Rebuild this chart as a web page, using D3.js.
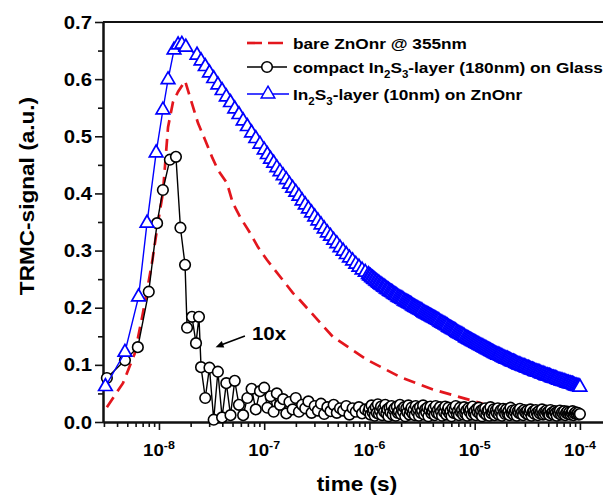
<!DOCTYPE html>
<html>
<head>
<meta charset="utf-8">
<script src="https://cdn.jsdelivr.net/npm/d3@7"></script>
<style>
  body { margin: 0; background: #fff; }
  svg { display: block; }
  text { font-family: "Liberation Sans", Arial, sans-serif; font-weight: bold; fill: #000; }
</style>
</head>
<body>
<div id="chart"></div>
<script>
// ---- data ----
// bare ZnOnr @ 355nm (red dashed)
const redTime = [3.2e-9, 4.55e-9, 5.92e-9, 7.05e-9, 8.58e-9, 9.78e-9, 1.09e-8, 1.22e-8, 1.36e-8, 1.52e-8,
  1.77e-8, 1.97e-8, 2.35e-8, 2.74e-8, 3.19e-8, 3.64e-8, 4.43e-8, 5.04e-8, 5.89e-8, 7.33e-8,
  8.73e-8, 1.06e-7, 1.87e-7, 2.19e-7, 4.5e-7, 9.46e-7, 1.95e-6, 4.01e-6, 8.43e-6, 1.2e-5];
const redSignal = [0.026, 0.068, 0.121, 0.191, 0.278, 0.348, 0.401, 0.516, 0.560, 0.578,
  0.597, 0.569, 0.523, 0.494, 0.464, 0.441, 0.418, 0.383, 0.359, 0.331,
  0.306, 0.284, 0.226, 0.213, 0.149, 0.109, 0.079, 0.057, 0.040, 0.032];

// compact In2S3-layer (180nm) on Glass (black circles), early part
const blackRiseTime = [3.2e-9, 4.75e-9, 6.3e-9, 8.0e-9, 9.6e-9, 1.09e-8, 1.27e-8, 1.45e-8, 1.6e-8, 1.77e-8,
  1.85e-8, 2.06e-8, 2.25e-8, 2.4e-8];
const blackRise = [0.077, 0.108, 0.131, 0.228, 0.348, 0.406, 0.459, 0.464, 0.340, 0.275,
  0.165, 0.184, 0.138, 0.184];

// In2S3-layer (10nm) on ZnOnr (blue triangles), early part
const blueRiseTime = [3.1e-9, 4.75e-9, 6.4e-9, 7.7e-9, 9.4e-9, 1.09e-8, 1.22e-8, 1.39e-8, 1.52e-8, 1.65e-8,
  1.8e-8, 2.3e-8];
const blueRise = [0.062, 0.122, 0.219, 0.348, 0.471, 0.546, 0.599, 0.651, 0.660, 0.661,
  0.656, 0.642];

// sampling of the long tail, log10 of time in s (shared by black and blue)
const tailLogTime = [
  -7.60, -7.56, -7.52, -7.48, -7.44, -7.40, -7.36, -7.32, -7.28, -7.24, -7.20, -7.16, -7.12, -7.08, -7.04,
  -7.00, -6.97, -6.94, -6.91, -6.88, -6.85, -6.82, -6.79, -6.76, -6.73, -6.70, -6.67, -6.64, -6.61, -6.58,
  -6.55, -6.52, -6.49, -6.46, -6.43, -6.40, -6.37, -6.34, -6.31, -6.28, -6.25, -6.22, -6.19, -6.16, -6.13,
  -6.10, -6.07, -6.04, -6.01,
  -6.00, -5.99, -5.98, -5.97, -5.96, -5.95, -5.94, -5.93, -5.92, -5.91,
  -5.90, -5.89, -5.88, -5.87, -5.86, -5.85, -5.84, -5.83, -5.82, -5.81,
  -5.80, -5.79, -5.78, -5.77, -5.76, -5.75, -5.74, -5.73, -5.72, -5.71,
  -5.70, -5.69, -5.68, -5.67, -5.66, -5.65, -5.64, -5.63, -5.62, -5.61,
  -5.60, -5.59, -5.58, -5.57, -5.56, -5.55, -5.54, -5.53, -5.52, -5.51,
  -5.50, -5.49, -5.48, -5.47, -5.46, -5.45, -5.44, -5.43, -5.42, -5.41,
  -5.40, -5.39, -5.38, -5.37, -5.36, -5.35, -5.34, -5.33, -5.32, -5.31,
  -5.30, -5.29, -5.28, -5.27, -5.26, -5.25, -5.24, -5.23, -5.22, -5.21,
  -5.20, -5.19, -5.18, -5.17, -5.16, -5.15, -5.14, -5.13, -5.12, -5.11,
  -5.10, -5.09, -5.08, -5.07, -5.06, -5.05, -5.04, -5.03, -5.02, -5.01,
  -5.00, -4.99, -4.98, -4.97, -4.96, -4.95, -4.94, -4.93, -4.92, -4.91,
  -4.90, -4.89, -4.88, -4.87, -4.86, -4.85, -4.84, -4.83, -4.82, -4.81,
  -4.80, -4.79, -4.78, -4.77, -4.76, -4.75, -4.74, -4.73, -4.72, -4.71,
  -4.70, -4.69, -4.68, -4.67, -4.66, -4.65, -4.64, -4.63, -4.62, -4.61,
  -4.60, -4.59, -4.58, -4.57, -4.56, -4.55, -4.54, -4.53, -4.52, -4.51,
  -4.50, -4.49, -4.48, -4.47, -4.46, -4.45, -4.44, -4.43, -4.42, -4.41,
  -4.40, -4.39, -4.38, -4.37, -4.36, -4.35, -4.34, -4.33, -4.32, -4.31,
  -4.30, -4.29, -4.28, -4.27, -4.26, -4.25, -4.24, -4.23, -4.22, -4.21,
  -4.20, -4.19, -4.18, -4.17, -4.16, -4.15, -4.14, -4.13, -4.12, -4.11,
  -4.10, -4.09, -4.08, -4.07, -4.06, -4.05, -4.04, -4.03, -4.02, -4.01,
  -4.00];

const blackTail = [
  0.096, 0.042, 0.095, 0.004, 0.088, 0.008, 0.068, 0.012, 0.072, 0.030, 0.012, 0.042, 0.058, 0.022, 0.054,
  0.060, 0.025, 0.045, 0.018, 0.050, 0.030, 0.040, 0.015, 0.035, 0.022, 0.042, 0.018, 0.030, 0.024, 0.036,
  0.016, 0.028, 0.020, 0.032, 0.014, 0.026, 0.019, 0.030, 0.016, 0.024, 0.020, 0.028, 0.013, 0.024, 0.018,
  0.026, 0.015, 0.022, 0.018,
  0.024, 0.013, 0.029, 0.017, 0.021, 0.011, 0.026, 0.016, 0.031, 0.014,
  0.020, 0.027, 0.012, 0.023, 0.018, 0.030, 0.015, 0.022, 0.010, 0.025,
  0.017, 0.028, 0.013, 0.021, 0.024, 0.011, 0.027, 0.016, 0.019, 0.030,
  0.014, 0.022, 0.018, 0.026, 0.010, 0.024, 0.017, 0.029, 0.013, 0.020,
  0.025, 0.015, 0.021, 0.012, 0.028, 0.018, 0.023, 0.011, 0.026, 0.016,
  0.020, 0.029, 0.013, 0.022, 0.017, 0.025, 0.010, 0.021, 0.027, 0.015,
  0.019, 0.024, 0.012, 0.028, 0.016, 0.021, 0.014, 0.026, 0.018, 0.011,
  0.023, 0.017, 0.027, 0.013, 0.020, 0.025, 0.015, 0.019, 0.010, 0.024,
  0.016, 0.022, 0.028, 0.014, 0.019, 0.012, 0.025, 0.017, 0.021, 0.013,
  0.026, 0.015, 0.020, 0.011, 0.024, 0.018, 0.022, 0.013, 0.027, 0.016,
  0.019, 0.012, 0.023, 0.017, 0.025, 0.014, 0.020, 0.010, 0.022, 0.016,
  0.024, 0.013, 0.019, 0.021, 0.011, 0.026, 0.015, 0.018, 0.022, 0.012,
  0.020, 0.016, 0.024, 0.013, 0.018, 0.021, 0.011, 0.023, 0.017, 0.014,
  0.022, 0.015, 0.019, 0.012, 0.025, 0.016, 0.020, 0.013, 0.018, 0.021,
  0.011, 0.019, 0.016, 0.023, 0.014, 0.018, 0.012, 0.021, 0.017, 0.015,
  0.020, 0.013, 0.018, 0.022, 0.011, 0.017, 0.019, 0.014, 0.021, 0.016,
  0.012, 0.019, 0.015, 0.018, 0.022, 0.013, 0.017, 0.014, 0.020, 0.016,
  0.018, 0.012, 0.021, 0.015, 0.017, 0.013, 0.019, 0.016, 0.011, 0.018,
  0.015, 0.020, 0.013, 0.017, 0.014, 0.019, 0.012, 0.016, 0.018, 0.014,
  0.017, 0.013, 0.016, 0.019, 0.012, 0.015, 0.017, 0.014, 0.016, 0.013,
  0.014];

const blueTail = [
  0.632, 0.622, 0.611, 0.601, 0.590, 0.580, 0.569, 0.559, 0.548, 0.538, 0.527, 0.517, 0.506, 0.496, 0.486,
  0.476, 0.468, 0.460, 0.453, 0.445, 0.438, 0.431, 0.424, 0.416, 0.409, 0.402, 0.395, 0.387, 0.380, 0.373,
  0.366, 0.359, 0.352, 0.345, 0.338, 0.331, 0.325, 0.318, 0.312, 0.305, 0.299, 0.293, 0.287, 0.282, 0.276,
  0.271, 0.266, 0.262, 0.258,
  0.256, 0.255, 0.253, 0.252, 0.250, 0.249, 0.247, 0.246, 0.244, 0.243,
  0.241, 0.240, 0.239, 0.237, 0.236, 0.235, 0.233, 0.232, 0.231, 0.229,
  0.228, 0.227, 0.226, 0.224, 0.223, 0.222, 0.221, 0.219, 0.218, 0.217,
  0.216, 0.215, 0.214, 0.212, 0.211, 0.210, 0.209, 0.208, 0.207, 0.206,
  0.205, 0.203, 0.202, 0.201, 0.200, 0.199, 0.198, 0.197, 0.196, 0.195,
  0.194, 0.192, 0.191, 0.190, 0.189, 0.188, 0.187, 0.186, 0.185, 0.184,
  0.183, 0.182, 0.181, 0.180, 0.179, 0.178, 0.177, 0.175, 0.174, 0.173,
  0.172, 0.171, 0.170, 0.169, 0.168, 0.166, 0.165, 0.164, 0.163, 0.162,
  0.161, 0.160, 0.159, 0.157, 0.156, 0.155, 0.154, 0.153, 0.152, 0.151,
  0.150, 0.148, 0.147, 0.146, 0.145, 0.144, 0.143, 0.142, 0.141, 0.140,
  0.139, 0.138, 0.137, 0.136, 0.135, 0.134, 0.133, 0.132, 0.131, 0.130,
  0.129, 0.128, 0.127, 0.126, 0.125, 0.124, 0.123, 0.122, 0.121, 0.120,
  0.119, 0.118, 0.117, 0.117, 0.116, 0.115, 0.114, 0.113, 0.112, 0.111,
  0.110, 0.110, 0.109, 0.108, 0.107, 0.106, 0.105, 0.105, 0.104, 0.103,
  0.102, 0.101, 0.100, 0.100, 0.099, 0.098, 0.097, 0.097, 0.096, 0.095,
  0.094, 0.094, 0.093, 0.092, 0.091, 0.091, 0.090, 0.089, 0.088, 0.088,
  0.087, 0.087, 0.086, 0.085, 0.084, 0.084, 0.083, 0.082, 0.081, 0.081,
  0.080, 0.080, 0.079, 0.078, 0.077, 0.077, 0.076, 0.076, 0.075, 0.074,
  0.073, 0.073, 0.072, 0.072, 0.071, 0.071, 0.070, 0.069, 0.068, 0.068,
  0.067, 0.067, 0.066, 0.066, 0.065, 0.064, 0.063, 0.063, 0.062, 0.062,
  0.061];

const yTicks = [0, 0.1, 0.2, 0.3, 0.4, 0.5, 0.6, 0.7];
const yMinor = [0.05, 0.15, 0.25, 0.35, 0.45, 0.55, 0.65];
const xDecades = [-8, -7, -6, -5, -4];

const legendLabels = [
  [{t: "bare ZnOnr @ 355nm"}],
  [{t: "compact In"}, {t: "2", sub: true}, {t: "S"}, {t: "3", sub: true}, {t: "-layer (180nm) on Glass"}],
  [{t: "In"}, {t: "2", sub: true}, {t: "S"}, {t: "3", sub: true}, {t: "-layer (10nm) on ZnOnr"}]
];

// ---- build series ----
function zip(ts, vs) {
  const n = Math.min(ts.length, vs.length);
  return d3.range(n).map(i => ({t: ts[i], v: vs[i]}));
}
const tailTime = tailLogTime.map(e => Math.pow(10, e));
const redData = zip(redTime, redSignal);
const blackData = zip(blackRiseTime, blackRise).concat(zip(tailTime, blackTail));
const blueData = zip(blueRiseTime, blueRise).concat(zip(tailTime, blueTail));

// ---- chart ----
const width = 603, height = 497;
const SX = 1.13; // glyphs in the picture are a bit wide

const svg = d3.select("#chart").append("svg")
  .attr("width", width)
  .attr("height", height);

const x = d3.scaleLog()
  .domain([2.94e-9, 2e-4])
  .range([103, 611.6]);

const y = d3.scaleLinear()
  .domain([0, 0.7])
  .range([422, 22]);

// axes (ticks only, labels drawn below)
const minorX = [];
for (let e = -9; e <= -4; e++) {
  for (let k = 2; k <= 9; k++) {
    const v = k * Math.pow(10, e);
    if (v > x.domain()[0] && v < x.domain()[1]) minorX.push(v);
  }
}

function styleAxis(g) {
  g.select(".domain").attr("stroke", "#111").attr("stroke-width", 2);
  g.selectAll(".tick line").attr("stroke", "#111").attr("stroke-width", 1.6);
}

svg.append("g")
  .attr("transform", "translate(0,422)")
  .call(d3.axisBottom(x).tickValues(minorX).tickSize(5).tickSizeOuter(0).tickFormat(""))
  .call(styleAxis);
svg.append("g")
  .attr("transform", "translate(0,422)")
  .call(d3.axisBottom(x).tickValues(xDecades.map(e => Math.pow(10, e))).tickSize(8).tickSizeOuter(0).tickFormat(""))
  .call(styleAxis);

svg.append("g")
  .attr("transform", "translate(103,0)")
  .call(d3.axisLeft(y).tickValues(yMinor).tickSize(5).tickSizeOuter(0).tickFormat(""))
  .call(styleAxis);
svg.append("g")
  .attr("transform", "translate(103,0)")
  .call(d3.axisLeft(y).tickValues(yTicks).tickSize(8).tickSizeOuter(0).tickFormat(""))
  .call(styleAxis);

// top frame
svg.append("line")
  .attr("x1", x.range()[0]).attr("x2", x.range()[1])
  .attr("y1", y(0.7)).attr("y2", y(0.7))
  .attr("stroke", "#111").attr("stroke-width", 2);

// tick labels
yTicks.forEach(v => {
  svg.append("text")
    .attr("transform", `translate(92,${y(v) + 6.5}) scale(${SX},1)`)
    .attr("text-anchor", "end")
    .style("font-size", "18px")
    .text(d3.format(".1f")(v));
});

xDecades.forEach(e => {
  const t = svg.append("text")
    .attr("transform", `translate(${x(Math.pow(10, e))},456) scale(${SX},1)`)
    .attr("text-anchor", "middle")
    .style("font-size", "16.5px");
  t.append("tspan").text("10");
  t.append("tspan").attr("dy", -7).style("font-size", "11px").text(String(e));
});

// axis titles
svg.append("text")
  .attr("transform", `translate(${(x.range()[0] + 603) / 2 + 4},491) scale(${SX},1)`)
  .attr("text-anchor", "middle")
  .style("font-size", "20px")
  .text("time (s)");

svg.append("text")
  .attr("transform", `translate(34,196) rotate(-90) scale(${SX},1)`)
  .attr("text-anchor", "middle")
  .style("font-size", "20px")
  .text("TRMC-signal (a.u.)");

// ---- series ----
const line = d3.line().x(d => x(d.t)).y(d => y(d.v));

svg.append("path")
  .datum(redData)
  .attr("d", line)
  .attr("fill", "none")
  .attr("stroke", "#e3161d")
  .attr("stroke-width", 2.7)
  .attr("stroke-dasharray", "12,7");

svg.append("path")
  .datum(blackData)
  .attr("d", line)
  .attr("fill", "none")
  .attr("stroke", "#000")
  .attr("stroke-width", 1.4);

svg.append("g")
  .selectAll("circle")
  .data(blackData)
  .join("circle")
  .attr("cx", d => x(d.t))
  .attr("cy", d => y(d.v))
  .attr("r", 5.3)
  .attr("fill", "#fff")
  .attr("stroke", "#000")
  .attr("stroke-width", 1.6);

svg.append("path")
  .datum(blueData)
  .attr("d", line)
  .attr("fill", "none")
  .attr("stroke", "#0000ff")
  .attr("stroke-width", 1.4);

const tri = d3.symbol().type(d3.symbolTriangle).size(80);
svg.append("g")
  .selectAll("path")
  .data(blueData)
  .join("path")
  .attr("d", tri)
  .attr("transform", d => `translate(${x(d.t)},${y(d.v)})`)
  .attr("fill", "#fff")
  .attr("stroke", "#0000ff")
  .attr("stroke-width", 1.7);

// ---- "10x" note with arrow ----
const arrowFrom = [6.56e-8, 0.1505], arrowTo = [3.45e-8, 0.131];
const ax1 = x(arrowFrom[0]), ay1 = y(arrowFrom[1]);
const ax2 = x(arrowTo[0]), ay2 = y(arrowTo[1]);
const ang = Math.atan2(ay2 - ay1, ax2 - ax1);
svg.append("line")
  .attr("x1", ax1).attr("y1", ay1)
  .attr("x2", ax2 - 5 * Math.cos(ang)).attr("y2", ay2 - 5 * Math.sin(ang))
  .attr("stroke", "#000").attr("stroke-width", 1.6);
const ah = 8, aw = 3.5;
const bx = ax2 - ah * Math.cos(ang), by = ay2 - ah * Math.sin(ang);
svg.append("path")
  .attr("d", `M${ax2},${ay2}L${bx + aw * Math.sin(ang)},${by - aw * Math.cos(ang)}L${bx - aw * Math.sin(ang)},${by + aw * Math.cos(ang)}Z`)
  .attr("fill", "#000");
svg.append("text")
  .attr("transform", `translate(${x(7.65e-8)},${y(0.1435)}) scale(1.08,1)`)
  .style("font-size", "19px")
  .text("10x");

// ---- legend ----
const legend = svg.append("g");
const rows = [43, 67, 94];

legend.append("line")
  .attr("x1", 247).attr("x2", 284).attr("y1", rows[0]).attr("y2", rows[0])
  .attr("stroke", "#e3161d").attr("stroke-width", 2.7).attr("stroke-dasharray", "15,6");

legend.append("line")
  .attr("x1", 247).attr("x2", 287).attr("y1", rows[1]).attr("y2", rows[1])
  .attr("stroke", "#000").attr("stroke-width", 1.4);
legend.append("circle")
  .attr("cx", 267).attr("cy", rows[1]).attr("r", 5.3)
  .attr("fill", "#fff").attr("stroke", "#000").attr("stroke-width", 1.6);

legend.append("line")
  .attr("x1", 247).attr("x2", 289).attr("y1", rows[2]).attr("y2", rows[2])
  .attr("stroke", "#0000ff").attr("stroke-width", 1.4);
legend.append("path")
  .attr("d", tri)
  .attr("transform", `translate(268,${rows[2]})`)
  .attr("fill", "#fff").attr("stroke", "#0000ff").attr("stroke-width", 1.5);

legendLabels.forEach((parts, i) => {
  const t = legend.append("text")
    .attr("transform", `translate(293,${rows[i] + 6}) scale(1.15,1)`)
    .style("font-size", "15px");
  let shifted = false;
  parts.forEach(p => {
    const s = t.append("tspan").text(p.t);
    if (p.sub && !shifted) { s.attr("dy", 5).style("font-size", "10px"); shifted = true; }
    else if (!p.sub && shifted) { s.attr("dy", -5); shifted = false; }
  });
});
</script>
</body>
</html>
